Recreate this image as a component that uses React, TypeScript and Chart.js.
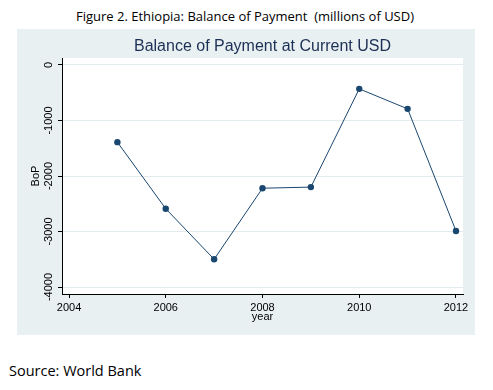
import React, { useEffect, useRef } from "react";
import { Chart, registerables } from "chart.js";

Chart.register(...registerables);

const years = [2005, 2006, 2007, 2008, 2009, 2010, 2011, 2012];
const bop = [-1390, -2590, -3500, -2220, -2200, -430, -790, -2990];
const xTicks = [2004, 2006, 2008, 2010, 2012];
const yTicks = [0, -1000, -2000, -3000, -4000];

const caption = "Figure 2. Ethiopia: Balance of Payment  (millions of USD)";
const chartTitle = "Balance of Payment at Current USD";
const xTitle = "year";
const yTitle = "BoP";
const source = "Source: World Bank";

const plotBg = {
  id: "plotBg",
  beforeDraw(chart: any) {
    const { ctx, chartArea } = chart;
    if (!chartArea) return;
    ctx.save();
    ctx.fillStyle = "#ffffff";
    ctx.fillRect(chartArea.left, chartArea.top, chartArea.right - chartArea.left, chartArea.bottom - chartArea.top);
    ctx.restore();
  },
};

export default function App() {
  const ref = useRef<HTMLCanvasElement | null>(null);

  useEffect(() => {
    if (!ref.current) return;
    const font = "'Liberation Sans', Arial, sans-serif";
    const chart = new Chart(ref.current, {
      type: "line",
      data: {
        datasets: [
          {
            data: years.map((y, i) => ({ x: y, y: bop[i] })),
            borderColor: "#1a476f",
            backgroundColor: "#1a476f",
            borderWidth: 1,
            pointRadius: 3.2,
            pointHoverRadius: 3.2,
            pointBorderWidth: 0,
            tension: 0,
          },
        ],
      },
      options: {
        animation: false,
        responsive: false,
        maintainAspectRatio: false,
        layout: { padding: { left: 0, right: 12, top: 0, bottom: 0 } },
        plugins: {
          legend: { display: false },
          tooltip: { enabled: false },
          title: {
            display: true,
            fullSize: false,
            text: chartTitle,
            color: "#1c2f55",
            font: { family: font, size: 16, weight: "normal", lineHeight: "20px" },
            padding: { top: 8, bottom: 1 },
          },
        },
        scales: {
          x: {
            type: "linear",
            min: 2003.855,
            max: 2012.145,
            afterBuildTicks: (s: any) => {
              s.ticks = xTicks.map((v) => ({ value: v }));
            },
            afterFit: (s: any) => {
              s.height = 41;
            },
            grid: { drawOnChartArea: false, drawTicks: true, tickLength: 4, tickColor: "#000000" },
            border: { display: true, color: "#000000", width: 1 },
            ticks: {
              color: "#000000",
              font: { family: font, size: 11 },
              padding: 3,
              maxRotation: 0,
              minRotation: 0,
              callback: (v: any) => String(v),
            },
            title: {
              display: true,
              text: xTitle,
              color: "#000000",
              font: { family: font, size: 11 },
              padding: { top: 0, bottom: 11 },
            },
          },
          y: {
            type: "linear",
            min: -4126,
            max: 126,
            afterBuildTicks: (s: any) => {
              s.ticks = yTicks.map((v) => ({ value: v }));
            },
            afterFit: (s: any) => {
              s.width = 45;
            },
            grid: { color: "#e3ebee", lineWidth: 1, drawTicks: true, tickLength: 4, tickColor: "#000000" },
            border: { display: true, color: "#000000", width: 1 },
            ticks: {
              color: "#000000",
              font: { family: font, size: 11 },
              padding: -5.5,
              minRotation: 90,
              maxRotation: 90,
              crossAlign: "center",
              callback: (v: any) => String(v),
            },
            title: {
              display: true,
              text: yTitle,
              color: "#000000",
              font: { family: font, size: 11 },
              padding: { top: 12, bottom: 0 },
            },
          },
        },
      },
      plugins: [plotBg],
    } as any);
    return () => chart.destroy();
  }, []);

  return (
    <div style={{ position: "absolute", left: 0, top: 0, width: 493, height: 390, background: "#ffffff" }}>
      <div
        style={{
          position: "absolute",
          left: 0,
          width: 490,
          top: 6,
          textAlign: "center",
          fontFamily: "'Open Sans', 'Noto Sans', sans-serif",
          fontSize: 13,
          lineHeight: "20px",
          color: "#000",
          whiteSpace: "pre",
        }}
      >
        {caption}
      </div>
      <div style={{ position: "absolute", left: 17, top: 29, width: 458, height: 306, background: "#e9f0f2" }}>
        <canvas ref={ref} width={458} height={306} style={{ display: "block", width: 458, height: 306 }} />
      </div>
      <div
        style={{
          position: "absolute",
          left: 9,
          top: 361,
          fontFamily: "'Open Sans', 'Noto Sans', sans-serif",
          fontSize: 14.5,
          lineHeight: "20px",
          color: "#000",
          whiteSpace: "pre",
        }}
      >
        {source}
      </div>
    </div>
  );
}
